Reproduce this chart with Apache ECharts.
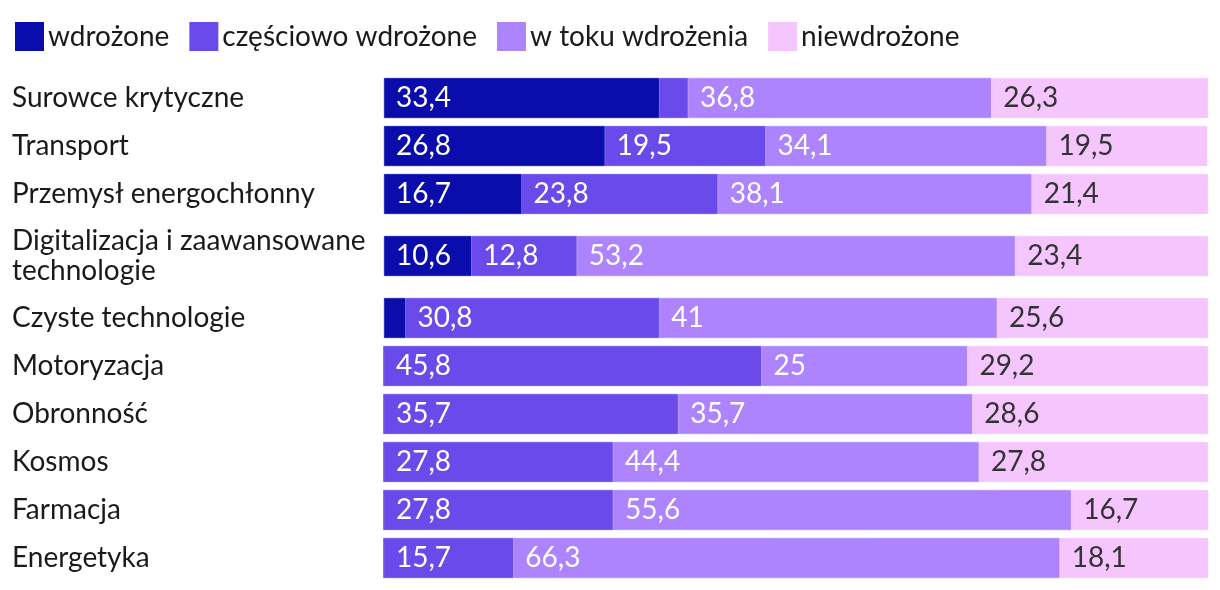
<!DOCTYPE html>
<html><head><meta charset="utf-8">
<script src="https://cdn.jsdelivr.net/npm/echarts@6/dist/echarts.min.js"></script>
<style>html,body{margin:0;padding:0;background:#fff}#c{width:1220px;height:590px}</style>
</head><body><div id="c"></div>
<script>
const categories = ["Surowce krytyczne","Transport","Przemysł energochłonny","Digitalizacja i zaawansowane\ntechnologie","Czyste technologie","Motoryzacja","Obronność","Kosmos","Farmacja","Energetyka"];
const seriesNames = ["wdrożone","częściowo wdrożone","w toku wdrożenia","niewdrożone"];
const wdrozone =    [33.4, 26.8, 16.7, 10.6, 2.6, 0, 0, 0, 0, 0];
const czesciowo =   [3.5, 19.5, 23.8, 12.8, 30.8, 45.8, 35.7, 27.8, 27.8, 15.7];
const wToku =       [36.8, 34.1, 38.1, 53.2, 41, 25, 35.7, 44.4, 55.6, 66.3];
const niewdrozone = [26.3, 19.5, 21.4, 23.4, 25.6, 29.2, 28.6, 27.8, 16.7, 18.1];
const colors = ["#0a0cab","#6a4aea","#ae84fe","#f5c6fd"];
const labelColors = ["#ffffff","#ffffff","#ffffff","#333333"];
const FONT = "Lato";
const values = [wdrozone, czesciowo, wToku, niewdrozone];
// row groups (start, end)
const groups = [[0,3],[3,4],[4,10]];
const grids = [
  {left:384,right:12,top:74,height:144},
  {left:384,right:12,top:232,height:48},
  {left:384,right:12,top:294,height:288}
];
const xAxis = [], yAxis = [], series = [];
groups.forEach((g,gi)=>{
  xAxis.push({type:'value',gridIndex:gi,min:0,max:100,show:false});
  yAxis.push({type:'category',gridIndex:gi,inverse:true,data:categories.slice(g[0],g[1]),
    axisLine:{show:false},axisTick:{show:false},
    axisLabel:{align:'left',margin:372,fontFamily:FONT,fontSize:28,color:'#1a1a1a',
      formatter:v=>'{t|'+v.split('\n').join('}\n{t|')+'}',
      rich:{t:{fontFamily:FONT,fontSize:28,color:'#1a1a1a',lineHeight:30}}}});
  values.forEach((vals,si)=>{
    series.push({type:'bar',name:seriesNames[si],stack:'s'+gi,xAxisIndex:gi,yAxisIndex:gi,
      barWidth:40,data:vals.slice(g[0],g[1]),
      itemStyle:{color:colors[si],borderColor:colors[si],borderWidth:0.6},
      label:{show:true,position:'insideLeft',distance:12,fontFamily:FONT,fontSize:28,color:labelColors[si],
        formatter:p=>p.value>=5?String(p.value).replace('.',','):''}});
  });
});
const chart = echarts.init(document.getElementById('c'),null,{renderer:'canvas'});
chart.setOption({
  animation:false,
  legend:{left:10,top:17,icon:'rect',itemWidth:27,itemHeight:27,itemGap:20,
    textStyle:{fontFamily:FONT,fontSize:28,color:'#1a1a1a'},data:seriesNames},
  grid:grids, xAxis, yAxis, series
});
</script></body></html>
